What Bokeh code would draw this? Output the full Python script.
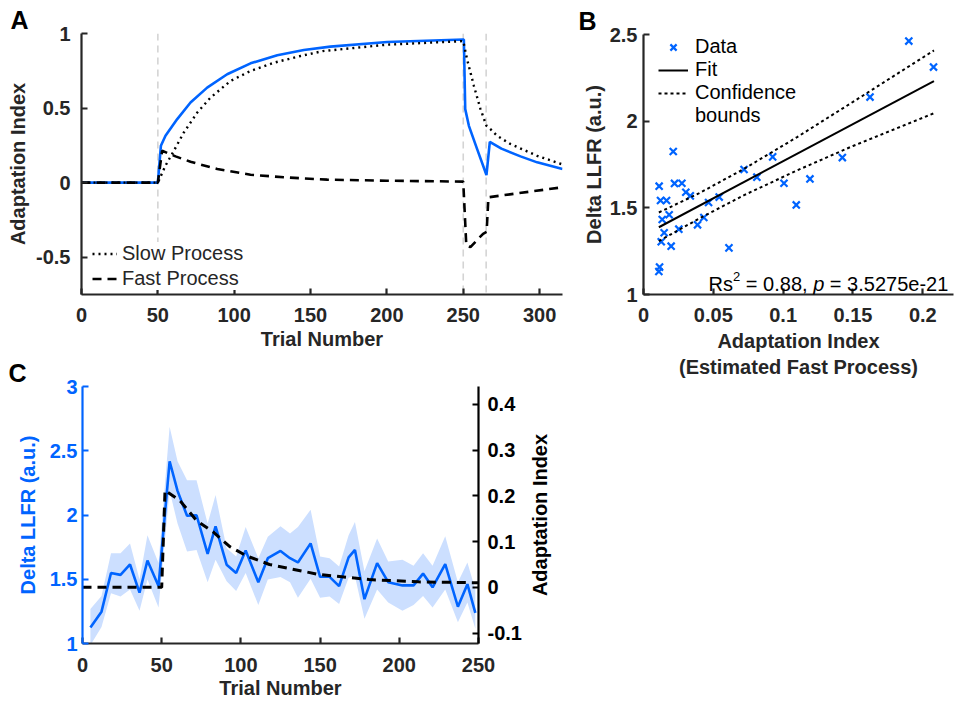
from bokeh.plotting import figure
from bokeh.layouts import row, column
from bokeh.models import (Range1d, LinearAxis, Legend, LegendItem, Label,
                          FixedTicker, Span)
from bokeh.embed import file_html
from bokeh.resources import INLINE

# ---------------- data: panel A (model simulation) -------------
a_total_t = [0, 50, 52, 55, 62.7, 71.4, 82.3, 95.4, 110.7, 128.2, 145.6, 163, 200.2, 250.4,
             251.3, 253.7, 259.1, 265.2, 267.4, 275, 287.5, 298.4, 315]
a_total_v = [0, 0, 0.247, 0.314, 0.426, 0.537, 0.637, 0.727, 0.800, 0.854, 0.889, 0.912, 0.943, 0.960,
             0.493, 0.381, 0.225, 0.051, 0.274, 0.228, 0.176, 0.136, 0.091]
a_slow_t = [0, 50, 55, 60.5, 67, 75.8, 84.5, 97.6, 110.7, 125.9, 143.4, 158, 200, 250,
            252.5, 257, 261.3, 265.2, 267.8, 272.2, 280.9, 298.4, 315]
a_slow_v = [0, 0, 0.114, 0.214, 0.336, 0.470, 0.570, 0.682, 0.749, 0.804, 0.849, 0.882, 0.925, 0.949,
            0.827, 0.648, 0.493, 0.381, 0.359, 0.314, 0.259, 0.180, 0.122]
a_fast_t = [0, 50, 52.8, 61.6, 71.4, 88.9, 110.7, 132.5, 160.9, 200, 250,
            252, 254.7, 263, 265.3, 266.5, 315]
a_fast_v = [0, 0, 0.214, 0.176, 0.140, 0.091, 0.053, 0.036, 0.020, 0.013, 0.007,
            -0.421, -0.432, -0.343, -0.330, -0.098, -0.031]
a_events = [50, 250, 265]
a_xticks = [0, 50, 100, 150, 200, 250, 300]
a_yticks = [-0.5, 0, 0.5, 1]

# ---------------- data: panel B --------------------------------------------------
b_x = [0.0112, 0.0110, 0.0115, 0.0122, 0.0127, 0.0134, 0.0148, 0.0165, 0.0184, 0.0198,
       0.0213, 0.0222, 0.0253, 0.0275, 0.0303, 0.0335, 0.0387, 0.0432, 0.0466, 0.0542,
       0.0612, 0.0720, 0.0812, 0.0925, 0.1006, 0.1094, 0.1192, 0.1424, 0.1622, 0.1900, 0.2077]
b_y = [1.625, 1.133, 1.158, 1.542, 1.304, 1.433, 1.356, 1.542, 1.460, 1.279,
       1.825, 1.641, 1.377, 1.642, 1.590, 1.569, 1.402, 1.444, 1.531, 1.562,
       1.269, 1.721, 1.677, 1.794, 1.642, 1.517, 1.667, 1.790, 2.139, 2.462, 2.312]
b_fit_x = [0.011, 0.208]
b_fit_y = [1.388, 2.231]
b_conf_x = [0.011, 0.04, 0.072, 0.11, 0.15, 0.208]
b_conf_up = [1.473, 1.585, 1.725, 1.908, 2.111, 2.408]
b_conf_lo = [1.308, 1.439, 1.573, 1.716, 1.857, 2.046]
b_xticks = [0, 0.05, 0.1, 0.15, 0.2]
b_yticks = [1, 1.5, 2, 2.5]

# ---------------- data: panel C --------------------------------------------------
c_t = [5, 12, 18, 24, 30, 36, 41, 48, 55, 60, 66, 72, 79, 84, 91, 97, 103, 111, 117, 125,
       131, 136, 144, 150, 156, 162, 168, 172, 178, 186, 193, 202, 209, 215, 221, 229, 237, 243, 248]
c_mean = [1.125, 1.248, 1.549, 1.534, 1.615, 1.396, 1.646, 1.447, 2.418, 2.188, 1.994, 1.998, 1.697,
          1.912, 1.613, 1.549, 1.723, 1.477, 1.664, 1.720, 1.664, 1.631, 1.779, 1.519, 1.519, 1.447,
          1.670, 1.728, 1.345, 1.626, 1.477, 1.452, 1.452, 1.544, 1.437, 1.618, 1.286, 1.462, 1.238]
c_upper = [1.268, 1.370, 1.703, 1.703, 1.779, 1.498, 1.843, 1.626, 2.686, 2.418, 2.270, 2.270, 1.933,
           2.155, 1.741, 1.677, 1.907, 1.664, 1.830, 1.913, 1.856, 1.907, 2.040, 1.677, 1.664, 1.600,
           1.843, 1.945, 1.562, 1.818, 1.639, 1.651, 1.605, 1.703, 1.605, 1.835, 1.477, 1.631, 1.421]
c_lower = [0.987, 1.128, 1.391, 1.366, 1.421, 1.255, 1.498, 1.281, 2.188, 1.933, 1.715, 1.728, 1.477,
           1.651, 1.485, 1.408, 1.549, 1.299, 1.498, 1.517, 1.477, 1.357, 1.503, 1.357, 1.366, 1.307,
           1.511, 1.523, 1.192, 1.421, 1.319, 1.255, 1.299, 1.370, 1.281, 1.421, 1.166, 1.319, 1.115]
c_fast_t = [0, 50, 52.1, 61.6, 72, 82.5, 93, 103.4, 118, 149.5, 181, 212, 250]
c_fast_v = [0, 0, 0.212, 0.189, 0.146, 0.121, 0.089, 0.069, 0.050, 0.028, 0.017, 0.012, 0.010]
c_xticks = [0, 50, 100, 150, 200, 250]
c_yticks = [1, 1.5, 2, 2.5, 3]
c_rticks = [-0.1, 0, 0.1, 0.2, 0.3, 0.4]

FONT = "Liberation Sans"
DARK = "#262626"
BLUE = "#0064FF"
BAND = "#CCDFFF"


def fmt(v):
    return "%g" % v


def style_axis(ax, ticks, color=DARK, label_standoff=9, axis_standoff=5):
    ax.ticker = FixedTicker(ticks=ticks)
    ax.major_label_overrides = {t: fmt(t) for t in ticks}
    ax.axis_line_color = color
    ax.axis_line_width = 2.2
    ax.major_tick_line_color = color
    ax.major_tick_line_width = 2.2
    ax.major_tick_in = 6
    ax.major_tick_out = 0
    ax.minor_tick_line_color = None
    ax.major_label_text_font = FONT
    ax.major_label_text_font_size = "20px"
    ax.major_label_text_font_style = "bold"
    ax.major_label_text_color = color
    ax.major_label_standoff = label_standoff
    ax.axis_label_text_font = FONT
    ax.axis_label_text_font_size = "20px"
    ax.axis_label_text_font_style = "bold"
    ax.axis_label_text_color = color
    ax.axis_label_standoff = axis_standoff


def base(p):
    p.outline_line_color = None
    p.grid.visible = False
    p.background_fill_color = "white"
    p.border_fill_color = "white"


def panel_title(p, text, offset):
    t = p.title
    t.text = text
    t.align = "left"
    t.offset = offset
    t.text_font = FONT
    t.text_font_size = "25px"
    t.text_font_style = "bold"
    t.text_color = "black"
    if "standoff" in t.properties():
        t.standoff = 0


# ================= Panel A =================
pA = figure(width=570, height=356, x_range=Range1d(0, 315), y_range=Range1d(-0.75, 1),
            min_border_left=81, min_border_right=8, min_border_top=33, min_border_bottom=62,
            output_backend="svg", toolbar_location=None)
base(pA)
panel_title(pA, "A", -71)
for ev in a_events:
    pA.add_layout(Span(location=ev, dimension="height", line_color="#d4d4d4",
                       line_dash="7 5", line_width=1.6, level="underlay"))
rA_tot = pA.line(a_total_t, a_total_v, line_color=BLUE, line_width=2.6)
rA_slow = pA.line(a_slow_t, a_slow_v, line_color="black", line_width=2.4, line_dash="2 4")
rA_fast = pA.line(a_fast_t, a_fast_v, line_color="black", line_width=2.6, line_dash="9 6")
style_axis(pA.xaxis[0], a_xticks, label_standoff=13, axis_standoff=3)
style_axis(pA.yaxis[0], a_yticks, label_standoff=11, axis_standoff=4)
pA.xaxis[0].axis_label = "Trial Number"
pA.yaxis[0].axis_label = "Adaptation Index"
legA = Legend(items=[LegendItem(label="Slow Process", renderers=[rA_slow]),
                     LegendItem(label="Fast Process", renderers=[rA_fast])],
              location=(11, 4), label_text_font=FONT, label_text_font_size="20px",
              label_text_color=DARK, glyph_width=25, glyph_height=23, label_height=23,
              label_standoff=5, spacing=2, padding=8, margin=0, border_line_color=None,
              background_fill_color="white", background_fill_alpha=1.0)
pA.add_layout(legA)

# ================= Panel B =================
pB = figure(width=386, height=384, x_range=Range1d(0, 0.222), y_range=Range1d(1, 2.5),
            min_border_left=73, min_border_right=3, min_border_top=34, min_border_bottom=90,
            output_backend="svg", toolbar_location=None)
base(pB)
panel_title(pB, "B", -65)
rB_data = pB.scatter(b_x, b_y, marker="x", size=10, line_color=BLUE, line_width=2.2)
rB_fit = pB.line(b_fit_x, b_fit_y, line_color="black", line_width=2)
rB_up = pB.line(b_conf_x, b_conf_up, line_color="black", line_width=2, line_dash="3 3")
pB.line(b_conf_x, b_conf_lo, line_color="black", line_width=2, line_dash="3 3")
rB_blank = pB.line([], [], line_alpha=0)
style_axis(pB.xaxis[0], b_xticks, label_standoff=13, axis_standoff=5)
style_axis(pB.yaxis[0], b_yticks, label_standoff=6, axis_standoff=2)
pB.xaxis[0].axis_label = "Adaptation Index\n(Estimated Fast Process)"
pB.yaxis[0].axis_label = "Delta LLFR (a.u.)"
legB = Legend(items=[LegendItem(label="Data", renderers=[rB_data]),
                     LegendItem(label="Fit", renderers=[rB_fit]),
                     LegendItem(label="Confidence", renderers=[rB_up]),
                     LegendItem(label="bounds", renderers=[rB_blank])],
              location=(15, 167), label_text_font=FONT, label_text_font_size="20px",
              label_text_color="black", glyph_width=30, glyph_height=22, label_height=22,
              label_standoff=7, spacing=0, padding=0, margin=0, border_line_color=None,
              background_fill_alpha=0)
pB.add_layout(legB)
rs_x, rs_y = 0.0466, 1.062
txt_common = dict(x=rs_x, y=rs_y, text_font=FONT, text_color="black",
                  text_baseline="alphabetic", text_align="left")
pB.add_layout(Label(text="Rs", text_font_size="20px", **txt_common))
pB.add_layout(Label(text="2", text_font_size="13px", x_offset=24.5, y_offset=7, **txt_common))
pB.add_layout(Label(text="= 0.88,", text_font_size="20px", x_offset=37.3, **txt_common))
pB.add_layout(Label(text="p", text_font_size="20px", text_font_style="italic", x_offset=104.6,
                    **txt_common))
pB.add_layout(Label(text="= 3.5275e-21", text_font_size="20px", x_offset=121.3, **txt_common))

# ================= Panel C =================
pC = figure(width=524, height=347, x_range=Range1d(0, 250), y_range=Range1d(1, 3),
            min_border_left=82, min_border_right=45, min_border_top=28, min_border_bottom=60,
            output_backend="svg", toolbar_location=None)
base(pC)
panel_title(pC, "C", -74)
pC.extra_y_ranges = {"ai": Range1d(-0.1226, 0.4387)}
pC.varea(x=c_t, y1=c_lower, y2=c_upper, fill_color=BAND, fill_alpha=1.0)
pC.line(c_t, c_mean, line_color=BLUE, line_width=2.6)
pC.line(c_fast_t, c_fast_v, y_range_name="ai", line_color="black", line_width=3, line_dash="9 6")
style_axis(pC.xaxis[0], c_xticks, label_standoff=14, axis_standoff=2)
style_axis(pC.yaxis[0], c_yticks, color=BLUE, label_standoff=5, axis_standoff=8)
pC.xaxis[0].axis_label = "Trial Number"
pC.yaxis[0].axis_label = "Delta LLFR (a.u.)"
rax = LinearAxis(y_range_name="ai")
style_axis(rax, c_rticks, color="black", label_standoff=9, axis_standoff=0)
pC.add_layout(rax, "right")

# narrow companion figure carrying the right-hand axis title (reads bottom-to-top)
pL = figure(width=32, height=347, x_range=Range1d(0, 1), y_range=Range1d(-0.1226, 0.4387),
            min_border_left=26, min_border_right=0, min_border_top=28, min_border_bottom=60,
            x_axis_location=None, output_backend="svg", toolbar_location=None)
base(pL)
lax = pL.yaxis[0]
lax.ticker = FixedTicker(ticks=[])
lax.axis_line_color = None
lax.major_tick_in = 0
lax.major_tick_out = 0
lax.minor_tick_line_color = None
lax.major_label_standoff = 0
lax.major_label_text_font_size = "0px"
lax.axis_label = "Adaptation Index"
lax.axis_label_standoff = 0
lax.axis_label_text_font = FONT
lax.axis_label_text_font_size = "20px"
lax.axis_label_text_font_style = "bold"
lax.axis_label_text_color = "black"

layout = row(column(pA, row(pC, pL)), pB)
open("out.html", "w").write(file_html(layout, INLINE))
